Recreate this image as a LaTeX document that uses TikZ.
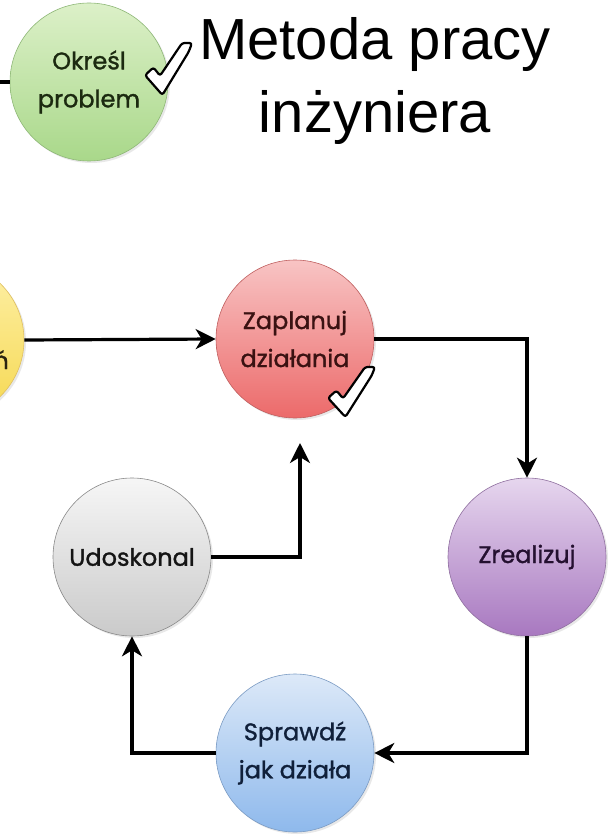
\documentclass[tikz,border=0pt]{standalone}
\usepackage{fontspec}
\setmainfont{Liberation Sans}
\newfontfamily\handfont{Poppins}[FakeBold=1.3]
\usetikzlibrary{arrows.meta,shadows}
\definecolor{gtop}{HTML}{DCF0C8}\definecolor{gbot}{HTML}{A9D88A}\definecolor{gbrd}{HTML}{8FB878}\definecolor{gtxt}{HTML}{1C2A10}
\definecolor{rtop}{HTML}{F8C4C4}\definecolor{rbot}{HTML}{EC6A6A}\definecolor{rbrd}{HTML}{C06060}\definecolor{rtxt}{HTML}{3A1212}
\definecolor{ktop}{HTML}{F6F6F6}\definecolor{kbot}{HTML}{CACACA}\definecolor{kbrd}{HTML}{8A8A8A}\definecolor{ktxt}{HTML}{151515}
\definecolor{ptop}{HTML}{E6D6EE}\definecolor{pbot}{HTML}{A878C0}\definecolor{pbrd}{HTML}{9070A0}\definecolor{ptxt}{HTML}{241030}
\definecolor{btop}{HTML}{DDE9F8}\definecolor{bbot}{HTML}{8EB9EC}\definecolor{bbrd}{HTML}{7C9CC4}\definecolor{btxt}{HTML}{10203A}
\definecolor{ytop}{HTML}{FDF0A8}\definecolor{ybot}{HTML}{F6D850}\definecolor{ybrd}{HTML}{E0C060}\definecolor{ytxt}{HTML}{2A2410}
\begin{document}
\begin{tikzpicture}[x=1pt,y=-1pt,
  stage/.style={circle, minimum size=158pt, inner sep=0pt, line width=0.6pt, align=center,
    font=\handfont\fontsize{24}{38}\selectfont,
    drop shadow={opacity=0.18, shadow xshift=2pt, shadow yshift=-2pt}},
  greenc/.style={stage, draw=gbrd, top color=gtop, bottom color=gbot, text=gtxt},
  redc/.style={stage, draw=rbrd, top color=rtop, bottom color=rbot, text=rtxt},
  grayc/.style={stage, draw=kbrd, top color=ktop, bottom color=kbot, text=ktxt},
  purplec/.style={stage, draw=pbrd, top color=ptop, bottom color=pbot, text=ptxt},
  bluec/.style={stage, draw=bbrd, top color=btop, bottom color=bbot, text=btxt},
  yellowc/.style={stage, draw=ybrd, top color=ytop, bottom color=ybot, text=ytxt},
  conn/.style={line width=3.2pt, draw=black},
  arr/.style={conn, -{Stealth[length=20pt,width=20pt,inset=6pt]}},
  titletext/.style={font=\fontsize{58}{73}\selectfont, anchor=base, inner sep=0pt},
  tickmark/.pic={\filldraw[fill=white, draw=black, line width=2.2pt, rounded corners=2.5pt, line join=round]
     (0,0.62) -- (0.18,0.47) -- (0.32,0.63) -- (0.79,0.0) -- (1,0.0) -- (0.93,0.17) -- (0.37,1) -- cycle;}
]
\useasboundingbox (0,0) rectangle (613,837);
\clip (0,0) rectangle (613,837);
\fill[white] (0,0) rectangle (613,837);

% nodes
\node[yellowc] (Y) at (-55,340) {};
\node[ytxt, font=\handfont\fontsize{24}{38}\selectfont, anchor=base east, inner sep=0pt] (Ytxt) at (9,369) {ń};
\node[greenc] (G) at (89,82) {Określ\\problem};
\node[redc] (R) at (295,339) {Zaplanuj\\działania};
\node[purplec] (P) at (527,557) {Zrealizuj};
\node[grayc] (U) at (132,557) {Udoskonal};
\node[bluec] (S) at (295,753) {Sprawdź\\jak działa};

\node[titletext] (T1) at (375,60) {Metoda pracy};
\node[titletext] (T2) at (375,133) {inżyniera};

% ticks
\pic[xscale=47, yscale=52] at (145,43) {tickmark};
\pic[xscale=47, yscale=50] at (328,367) {tickmark};

% connectors
\coordinate (gin) at (0,82);
\coordinate (ufree) at (300,443);
\draw[conn] (gin) -- (G.west);
\draw[arr] (Y.east) -- (R.west);
\draw[arr] (R.east) -| (P.north);
\draw[arr] (P.south) |- (S.east);
\draw[arr] (S.west) -| (U.south);
\draw[arr] (U.east) -| (ufree);
\end{tikzpicture}
\end{document}
